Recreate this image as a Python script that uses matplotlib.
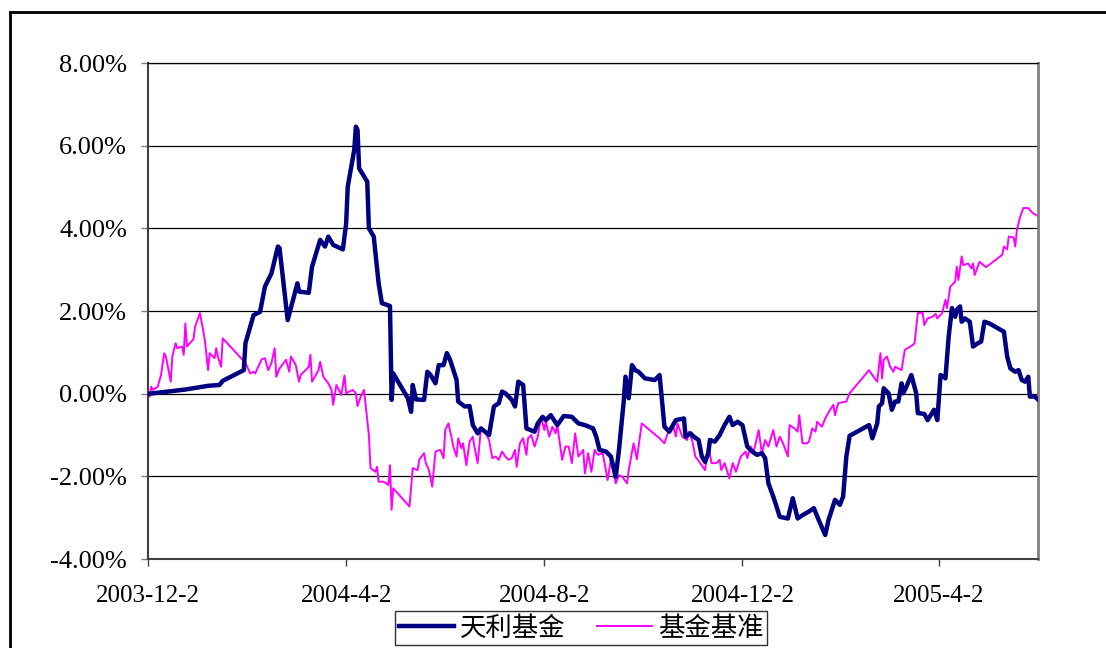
import numpy as np
import matplotlib
matplotlib.use('Agg')
import matplotlib.pyplot as plt
from matplotlib.lines import Line2D

plt.rcParams['font.family'] = ['Liberation Serif', 'Noto Sans CJK SC', 'DejaVu Sans']

start = np.datetime64('2003-12-02')

# 天利基金: days after 2003-12-02, cumulative return in %
fund_days = [1, 23, 37, 44, 46, 59, 60, 65, 69, 72, 76, 80, 81, 86, 92, 93, 99, 101, 106, 109,
             111, 114, 120, 122, 123, 127, 128, 129, 130, 135, 136, 139, 142, 144, 147, 149, 150, 151, 160, 162,
             163, 165, 170, 172, 174, 177, 179, 182, 184, 186, 190, 191, 195, 198, 200, 203, 205, 210, 213, 216,
             218, 220, 224, 226, 228, 231, 233, 238, 240, 243, 245, 248, 252, 256, 261, 265, 269, 274, 276, 278,
             282, 285, 288, 290, 293, 294, 296, 298, 300, 302, 306, 312, 315, 318, 321, 325, 330, 331, 334, 336,
             339, 341, 343, 345, 346, 349, 352, 355, 358, 360, 363, 366, 369, 372, 375, 378, 380, 382, 385, 387,
             389, 394, 397, 400, 403, 407, 410, 413, 417, 419, 423, 426, 428, 430, 432, 444, 446, 449, 450, 452,
             453, 456, 458, 460, 462, 464, 465, 467, 470, 473, 474, 478, 480, 484, 486, 488, 490, 491, 493, 495,
             497, 498, 500, 501, 503, 506, 508, 511, 513, 515, 518, 527, 529, 531, 534, 536, 538, 540, 542, 543,
             546, 548]
fund_vals = [0.00, 0.10, 0.19, 0.21, 0.31, 0.57, 1.22, 1.90, 1.98, 2.59, 2.91, 3.56, 3.52, 1.78, 2.67, 2.47, 2.44, 3.07, 3.72, 3.56,
             3.80, 3.60, 3.49, 4.12, 5.01, 5.90, 6.46, 6.38, 5.45, 5.13, 4.00, 3.80, 2.67, 2.19, 2.15, 2.12, -0.15, 0.49, -0.11, -0.44,
             0.21, -0.14, -0.15, 0.53, 0.45, 0.25, 0.69, 0.69, 0.98, 0.82, 0.33, -0.19, -0.31, -0.30, -0.76, -0.96, -0.84, -1.00, -0.31, -0.23,
             0.05, 0.01, -0.15, -0.31, 0.29, 0.21, -0.84, -0.92, -0.72, -0.56, -0.64, -0.52, -0.76, -0.54, -0.56, -0.72, -0.76, -0.84, -1.04, -1.36,
             -1.40, -1.52, -2.01, -1.36, -0.15, 0.41, -0.11, 0.69, 0.57, 0.53, 0.37, 0.33, 0.45, -0.80, -0.92, -0.64, -0.60, -1.04, -0.96, -1.04,
             -1.12, -1.52, -1.65, -1.44, -1.12, -1.16, -1.00, -0.76, -0.56, -0.76, -0.68, -0.76, -1.28, -1.40, -1.48, -1.44, -1.56, -2.17, -2.49, -2.73,
             -2.98, -3.02, -2.53, -3.02, -2.94, -2.85, -2.77, -3.06, -3.42, -3.06, -2.57, -2.69, -2.49, -1.52, -1.02, -0.76, -1.08, -0.72, -0.31, -0.23,
             0.13, 0.01, -0.39, -0.19, -0.19, 0.25, 0.01, 0.17, 0.45, 0.01, -0.47, -0.49, -0.64, -0.39, -0.64, 0.45, 0.41, 0.37, 1.38, 2.07,
             1.86, 2.03, 2.11, 1.74, 1.82, 1.74, 1.14, 1.22, 1.26, 1.74, 1.70, 1.50, 0.90, 0.61, 0.53, 0.57, 0.33, 0.29, 0.41, -0.07,
             -0.07, -0.14]

# 基金基准
bench_days = [1, 2, 3, 6, 8, 10, 11, 14, 15, 17, 18, 21, 22, 23, 24, 28, 29, 32, 35, 37,
              38, 41, 42, 43, 45, 46, 58, 60, 63, 65, 66, 70, 72, 74, 76, 78, 79, 81, 85, 87,
              88, 91, 93, 94, 99, 100, 101, 105, 106, 108, 111, 113, 114, 116, 119, 121, 122, 126, 128, 129,
              131, 133, 136, 137, 140, 141, 142, 145, 148, 149, 150, 151, 161, 163, 166, 167, 170, 171, 173, 175,
              177, 180, 182, 183, 185, 187, 188, 190, 191, 193, 194, 196, 198, 200, 201, 203, 205, 208, 210, 212,
              214, 216, 218, 220, 222, 224, 226, 227, 229, 231, 233, 234, 236, 238, 240, 242, 244, 245, 247, 249,
              251, 252, 255, 257, 259, 261, 263, 265, 268, 269, 271, 273, 275, 277, 280, 283, 285, 288, 290, 292,
              295, 296, 299, 301, 304, 315, 318, 320, 323, 325, 326, 329, 332, 333, 335, 337, 340, 343, 345, 347,
              350, 352, 353, 355, 358, 360, 362, 365, 368, 369, 371, 373, 376, 378, 380, 382, 385, 387, 389, 391,
              394, 395, 398, 400, 401, 403, 406, 407, 409, 411, 412, 415, 417, 420, 422, 423, 425, 430, 432, 444,
              446, 449, 451, 452, 453, 455, 457, 459, 460, 462, 464, 466, 471, 472, 474, 477, 478, 480, 483, 485,
              486, 489, 491, 492, 494, 497, 498, 499, 501, 502, 505, 507, 508, 509, 512, 516, 526, 527, 529, 530,
              533, 534, 535, 537, 539, 542, 545, 548]
bench_vals = [-0.07, 0.17, 0.09, 0.17, 0.45, 0.98, 0.90, 0.29, 0.90, 1.22, 1.10, 1.14, 0.94, 1.70, 1.14, 1.32, 1.62, 1.95, 1.30, 0.57,
              0.98, 0.86, 1.10, 0.90, 0.65, 1.34, 0.83, 0.74, 0.49, 0.53, 0.49, 0.83, 0.86, 0.57, 0.74, 1.10, 0.41, 0.61, 0.82, 0.53,
              0.90, 0.69, 0.29, 0.45, 0.65, 0.94, 0.29, 0.57, 0.77, 0.41, 0.25, 0.09, -0.27, 0.21, -0.03, 0.44, 0.01, 0.09, 0.01, -0.30,
              -0.07, 0.09, -1.00, -1.80, -1.89, -1.77, -2.13, -2.13, -2.21, -1.73, -2.81, -2.29, -2.73, -1.80, -1.85, -1.60, -1.44, -1.68, -1.85, -2.25,
              -1.40, -1.36, -1.56, -0.88, -0.72, -1.08, -1.28, -1.52, -1.08, -1.32, -1.20, -1.73, -1.16, -1.04, -1.28, -1.68, -0.84, -0.96, -1.12, -1.56,
              -1.52, -1.60, -1.40, -1.52, -1.60, -1.56, -1.36, -1.77, -1.20, -1.08, -1.48, -1.08, -1.00, -1.28, -1.04, -0.56, -0.88, -0.68, -1.04, -0.80,
              -0.96, -0.76, -1.60, -1.28, -1.28, -1.68, -0.96, -1.52, -1.36, -1.93, -1.44, -1.89, -1.36, -1.48, -1.44, -2.09, -1.60, -2.17, -1.97, -2.01,
              -2.17, -1.85, -1.20, -1.59, -0.72, -1.08, -1.20, -0.96, -0.72, -1.04, -0.72, -1.04, -1.12, -0.92, -1.12, -1.52, -1.68, -1.85, -1.24, -1.68,
              -1.68, -1.60, -1.85, -1.68, -2.05, -1.68, -1.89, -1.52, -1.40, -1.56, -1.28, -1.40, -0.88, -1.44, -1.12, -1.28, -0.88, -1.28, -1.04, -1.20,
              -1.52, -0.76, -0.84, -0.92, -0.52, -1.20, -1.20, -1.16, -0.84, -0.92, -0.68, -0.80, -0.60, -0.39, -0.27, -0.52, -0.23, -0.19, 0.01, 0.57,
              0.45, 0.29, 0.98, 0.37, 0.82, 0.90, 0.65, 0.53, 0.65, 0.61, 0.57, 1.06, 1.18, 1.22, 1.95, 1.96, 1.66, 1.82, 1.86, 1.93,
              1.82, 1.95, 2.27, 2.07, 2.59, 2.71, 3.07, 2.75, 3.32, 3.11, 3.15, 3.03, 3.15, 2.87, 3.19, 3.06, 3.36, 3.56, 3.49, 3.80,
              3.78, 3.56, 3.96, 4.28, 4.49, 4.49, 4.36, 4.30]

tick_dates = ['2003-12-02', '2004-04-02', '2004-08-02', '2004-12-02', '2005-04-02']
tick_labels = ['2003-12-2', '2004-4-2', '2004-8-2', '2004-12-2', '2005-4-2']
y_ticks = [-4, -2, 0, 2, 4, 6, 8]

fund_dates = start + np.array(fund_days, dtype='timedelta64[D]')
bench_dates = start + np.array(bench_days, dtype='timedelta64[D]')

fig = plt.figure(figsize=(11.06, 6.48), dpi=100)
ax = fig.add_axes([148 / 1106, 1 - 559 / 648, 890 / 1106, 496 / 648])

ax.plot(fund_dates, fund_vals, color='#000080', lw=3.2, solid_joinstyle='round', label='天利基金', zorder=3)
ax.plot(bench_dates, bench_vals, color='#FF00FF', lw=1.4, label='基金基准', zorder=2)

ax.set_xlim(start, start + np.timedelta64(548, 'D'))
ax.set_ylim(-4, 8)
ax.set_yticks(y_ticks)
ax.set_yticklabels(['%.2f%%' % v for v in y_ticks])
ax.set_xticks([np.datetime64(d) for d in tick_dates])
ax.set_xticklabels(tick_labels)

ax.grid(axis='y', color='black', lw=0.9)
ax.set_axisbelow(True)
for s in ['left', 'bottom']:
    ax.spines[s].set_color('#404040')
    ax.spines[s].set_linewidth(1.5)
ax.spines['top'].set_color('black')
ax.spines['top'].set_linewidth(0.9)
ax.spines['right'].set_color('#808080')
ax.spines['right'].set_linewidth(2)

ax.tick_params(axis='y', direction='out', length=5, width=1, color='#808080',
               labelsize=19, pad=10)
ax.tick_params(axis='x', direction='out', length=5, width=1, color='#404040',
               labelsize=18, pad=14)

leg = fig.legend(loc='center', bbox_to_anchor=(581 / 1106, 1 - 628 / 648), ncol=2,
                 frameon=True, fancybox=False, edgecolor='black', handlelength=2.1,
                 columnspacing=1.2, handletextpad=0.2, borderpad=0.15, borderaxespad=0,
                 prop={'family': ['Noto Sans CJK SC'], 'size': 19})
leg.get_frame().set_linewidth(1.0)

# outer frame of the chart area
fig.add_artist(Line2D([10 / 1106, 1.0], [1 - 12 / 648, 1 - 12 / 648], color='black', lw=2,
                      transform=fig.transFigure))
fig.add_artist(Line2D([10 / 1106, 10 / 1106], [0.0, 1 - 12 / 648], color='black', lw=2,
                      transform=fig.transFigure))

fig.savefig('out.png', dpi=100)
